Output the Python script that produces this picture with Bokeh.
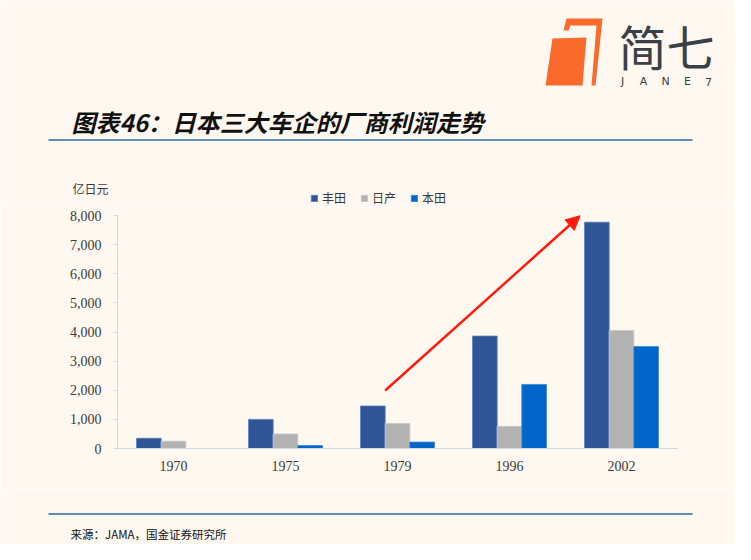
from bokeh.plotting import figure
from bokeh.layouts import column
from bokeh.models import (FactorRange, Range1d, Label, Arrow, NormalHead, BoxAnnotation,
                          Legend, LegendItem, ColumnDataSource, FixedTicker,
                          NumeralTickFormatter)
from bokeh.transform import dodge
from bokeh.embed import file_html
from bokeh.resources import INLINE

# ---- data ----
years = ["1970", "1975", "1979", "1996", "2002"]
toyota = [350, 1000, 1460, 3860, 7770]
nissan = [250, 500, 860, 760, 4050]
honda = [0, 100, 220, 2200, 3500]
series_names = ["丰田", "日产", "本田"]
y_ticks = [0, 1000, 2000, 3000, 4000, 5000, 6000, 7000, 8000]
unit_text = "亿日元"
title_text = "图表46：日本三大车企的厂商利润走势"
source_text = "来源：JAMA，国金证券研究所"
# trend arrow (category-index units, value units)
arrow_from = (2.39, 1990)
arrow_to = (4.13, 7990)

BG = "#FEF8F1"
C_TOY = "#2F5597"
C_NIS = "#B2B2B2"
C_HON = "#0066CC"
EDGE = ["#5B7DB8", "#C8C8C8", "#3385D6"]
TXT = "#3A3A3A"
AX = "#D0D8E2"
LINE = "#5F8DB4"
ORANGE = "#FA6A2A"
W = 735
H_TOP, H_MID, H_BOT = 207, 283, 54


def deco_fig(h, y0):
    f = figure(width=W, height=h, x_range=Range1d(0, W), y_range=Range1d(y0 + h, y0),
               x_axis_type=None, y_axis_type=None, output_backend="svg",
               toolbar_location=None, background_fill_color=BG, border_fill_color=BG,
               outline_line_color=None, min_border=0, min_border_left=0,
               min_border_right=0, min_border_top=0, min_border_bottom=0,
               frame_align=False)
    f.grid.visible = False
    return f


def lab(f, x, y, text, size, font="Noto Sans CJK SC", style="normal", color=TXT,
        align="left"):
    f.add_layout(Label(x=x, y=y, text=text, text_font=font, text_font_size=size,
                       text_font_style=style, text_color=color, text_baseline="middle",
                       text_align=align))


def hline(f, y, x0=48, x1=692):
    f.add_layout(BoxAnnotation(left=x0, right=x1, top=y - 1, bottom=y + 1,
                               fill_color=LINE, fill_alpha=1, line_color=None))


# ---- top: logo, title, rule, unit, legend ----
top = deco_fig(H_TOP, 0)
main_x = [552, 586, 582, 545]
main_y = [38, 37, 85, 85]
hook_x = [563, 566, 602, 595, 591, 596, 570, 568]
hook_y = [30, 18, 18, 85, 85, 25, 25, 30]
top.patch(main_x, main_y, fill_color=ORANGE, line_color=None)
top.patch(hook_x, hook_y, fill_color=ORANGE, line_color=None)
lab(top, 618, 44, "简七", "48px", color="#3B4047")
for ch, xc in zip("JANE7", (622, 643, 665, 687, 708)):
    lab(top, xc, 81, ch, "11px", font="DejaVu Sans", color="#3B4047", align="center")
lab(top, 71, 121, title_text, "24px", style="bold italic", color="#111111")
hline(top, 139.5)
lab(top, 72, 188, unit_text, "12px")

# legend swatches come from bar renderers (with a single undrawn NaN row)
# styled like the chart's bars
nan = float("nan")
leg_r = [top.vbar(x=[nan], top=[nan], width=1, fill_color=c, line_color=e, line_width=0.8)
         for c, e in zip((C_TOY, C_NIS, C_HON), EDGE)]
legend = Legend(items=[LegendItem(label=n, renderers=[r]) for n, r in zip(series_names, leg_r)],
                orientation="horizontal", location=(310, H_TOP - 206),
                background_fill_alpha=0, border_line_color=None,
                label_text_font="Noto Sans CJK SC", label_text_font_size="12px",
                label_text_color=TXT, glyph_width=8, glyph_height=8, label_height=12,
                spacing=14, label_standoff=4, padding=0, margin=0)
top.add_layout(legend)

# ---- chart ----
src = ColumnDataSource(dict(years=years, toyota=toyota, nissan=nissan, honda=honda))
frame_h = H_MID - 42
p = figure(width=W, height=H_MID, x_range=FactorRange(*years, range_padding=0),
           y_range=Range1d(0, 8000 * frame_h / 233.0), output_backend="svg",
           toolbar_location=None, background_fill_color=BG, border_fill_color=BG,
           outline_line_color=None, min_border_left=117, min_border_right=58,
           min_border_top=0, min_border_bottom=42, frame_align=False)

bw = 0.22
for col, off, c, e in zip(("toyota", "nissan", "honda"), (-bw, 0, bw),
                          (C_TOY, C_NIS, C_HON), EDGE):
    p.vbar(x=dodge("years", off, range=p.x_range), top=col, width=bw, source=src,
           fill_color=c, line_color=e, line_width=0.8)

p.xgrid.grid_line_color = None
p.ygrid.grid_line_color = None

p.yaxis.ticker = FixedTicker(ticks=y_ticks)
p.yaxis.bounds = (0, 8000)
p.yaxis.formatter = NumeralTickFormatter(format="0,0")
p.yaxis.axis_line_color = AX
p.yaxis.major_tick_line_color = AX
p.yaxis.major_tick_out = 4
p.yaxis.major_tick_in = 0
p.yaxis.minor_tick_line_color = None
p.yaxis.major_label_text_font = "Liberation Serif"
p.yaxis.major_label_text_font_size = "14px"
p.yaxis.major_label_text_color = TXT
p.yaxis.major_label_standoff = 12

p.xaxis.axis_line_color = AX
p.xaxis.major_tick_line_color = None
p.xaxis.minor_tick_line_color = None
p.xaxis.major_label_text_font = "Liberation Serif"
p.xaxis.major_label_text_font_size = "14px"
p.xaxis.major_label_text_color = TXT
p.xaxis.major_label_standoff = 6

p.add_layout(Arrow(x_start=arrow_from[0], y_start=arrow_from[1],
                   x_end=arrow_to[0], y_end=arrow_to[1],
                   line_color="#FF1A0A", line_width=2.5,
                   end=NormalHead(size=14, fill_color="#FF1A0A", line_color="#FF1A0A")))

# ---- bottom: rule and source ----
bot = deco_fig(H_BOT, H_TOP + H_MID)
hline(bot, 513.5)
lab(bot, 70, 533, source_text, "11.5px", color="#111111")

layout = column(top, p, bot, spacing=0)
open("out.html", "w").write(file_html(layout, INLINE))
